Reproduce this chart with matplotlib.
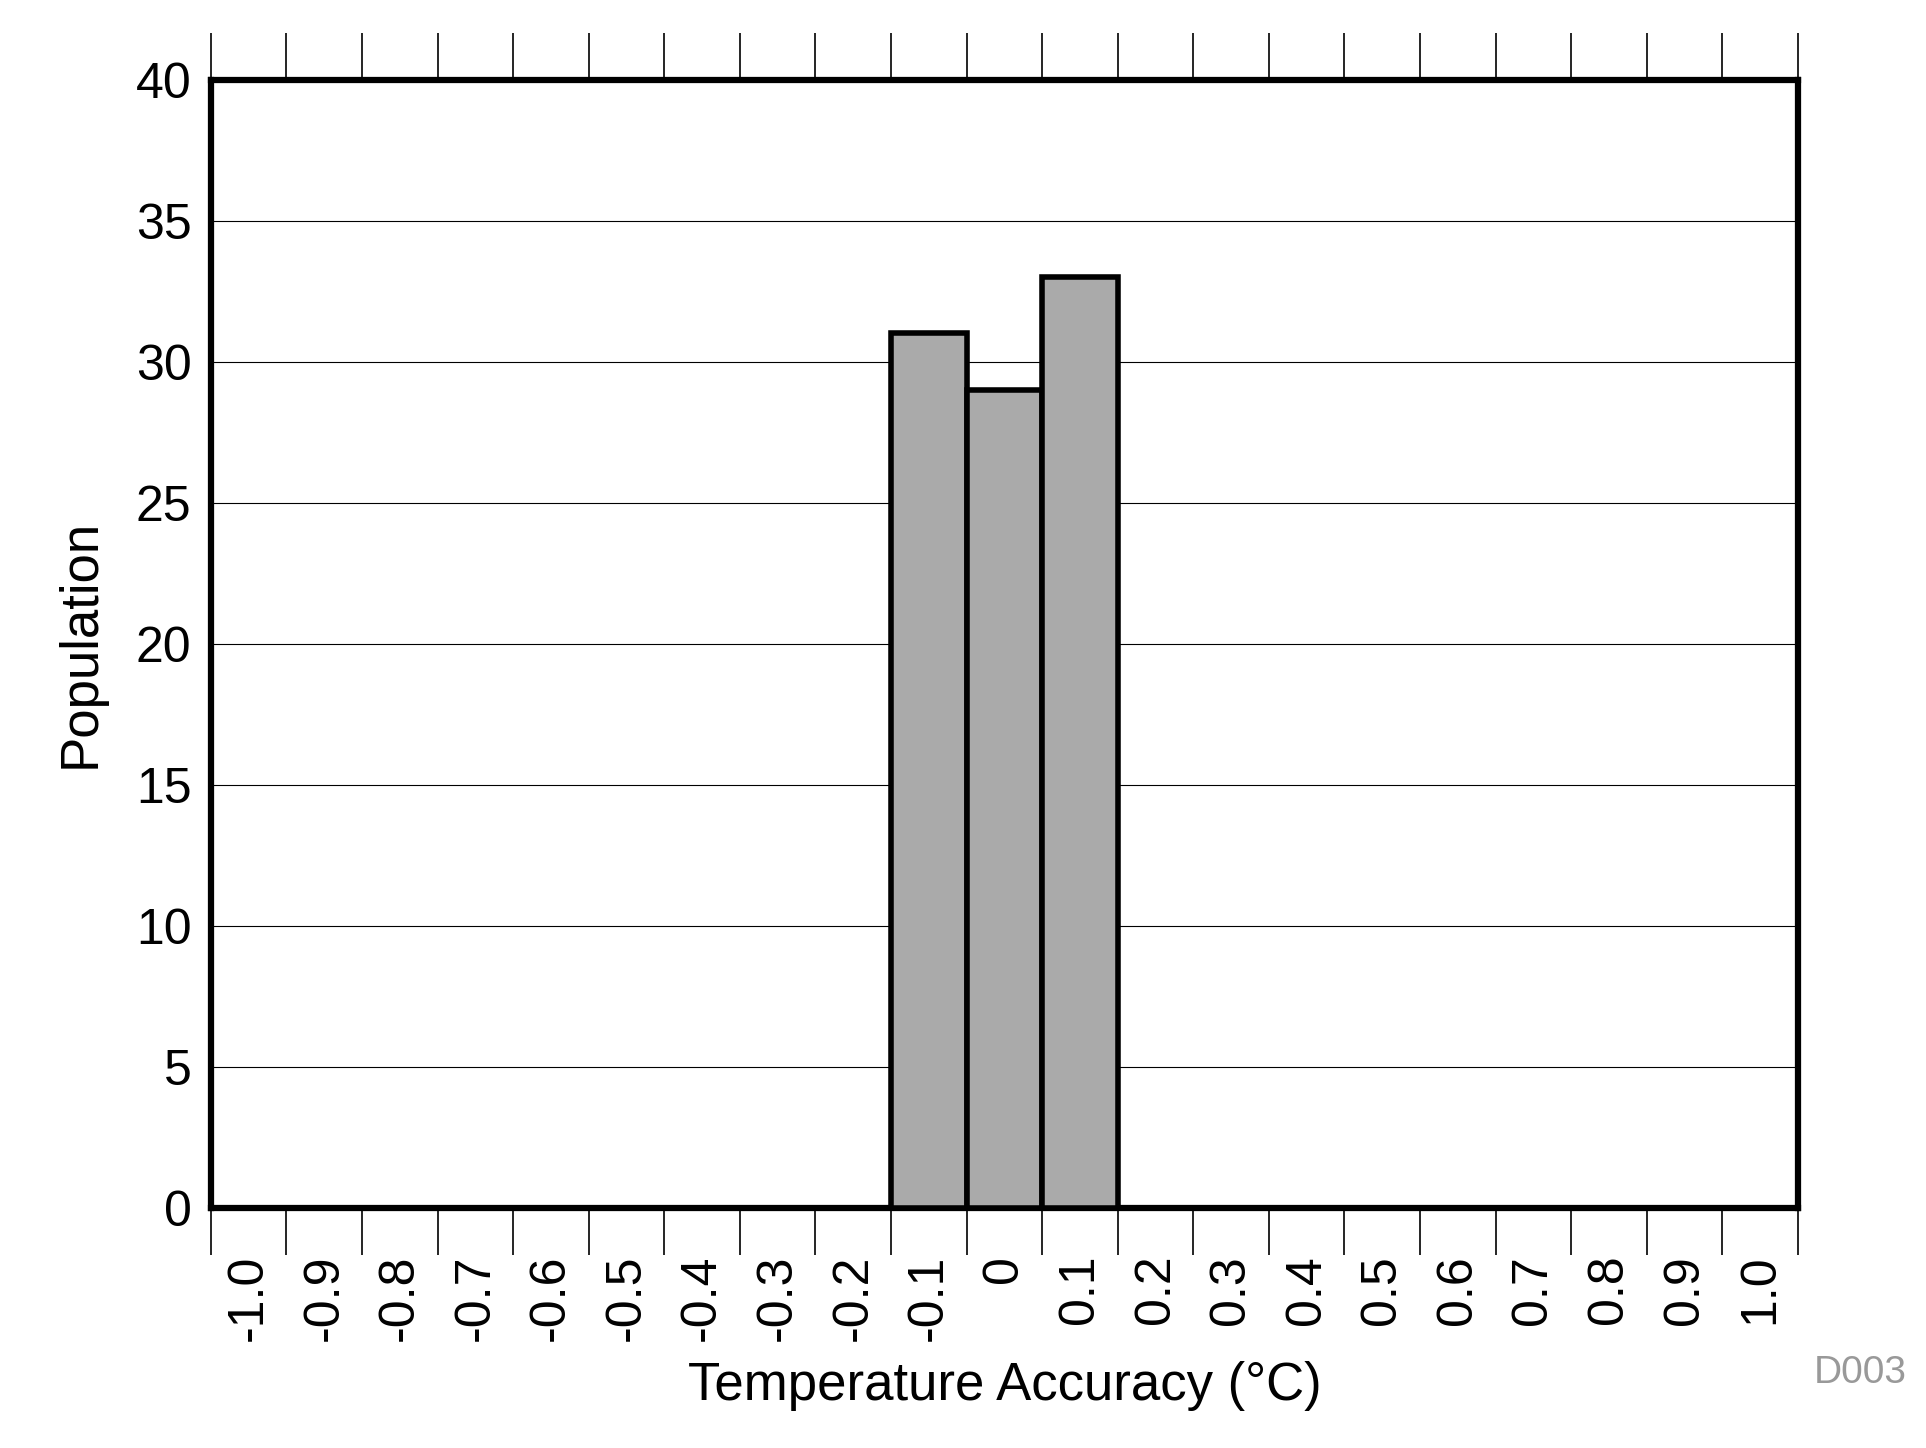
import matplotlib
matplotlib.use("Agg")
import matplotlib.pyplot as plt
import numpy as np

plt.rcParams['font.family'] = ['Liberation Sans', 'DejaVu Sans']

labels = ["-1.0","-0.9","-0.8","-0.7","-0.6","-0.5","-0.4","-0.3","-0.2","-0.1","0",
          "0.1","0.2","0.3","0.4","0.5","0.6","0.7","0.8","0.9","1.0"]
counts = [0,0,0,0,0,0,0,0,0,31,29,33,0,0,0,0,0,0,0,0,0]

fig = plt.figure(figsize=(19.26, 14.48), dpi=100)
ax = fig.add_axes([0.1095, 0.166, 0.8335 - 0.0095, 0.779])
x = np.arange(len(labels))
ax.bar(x, counts, width=1.0, color='#aaaaaa', edgecolor='black', linewidth=4, zorder=3)
ax.set_xlim(-0.5, len(labels) - 0.5)
ax.set_ylim(0, 40)
ax.set_yticks(range(0, 41, 5))
ax.yaxis.grid(True, color='black', linewidth=0.8)
ax.set_axisbelow(True)
ax.tick_params(axis='y', labelsize=36, length=0, pad=14)
ax.set_xticks(np.arange(-0.5, len(labels), 1.0))
ax.set_xticklabels([])
ax.tick_params(axis='x', which='major', direction='out', length=34, width=1.2, top=True)
ax.set_xticks(x, minor=True)
ax.set_xticklabels(labels, minor=True, rotation=90, fontsize=36)
ax.tick_params(axis='x', which='minor', length=0, pad=34)
for s in ax.spines.values():
    s.set_linewidth(4.5)
ax.set_xlabel("Temperature Accuracy (\u00b0C)", fontsize=38, labelpad=14)
ax.set_ylabel("Population", fontsize=38, labelpad=22)
fig.text(0.99, 0.045, "D003", fontsize=28, color='#999999', ha='right')
fig.savefig("out.png", dpi=100)
